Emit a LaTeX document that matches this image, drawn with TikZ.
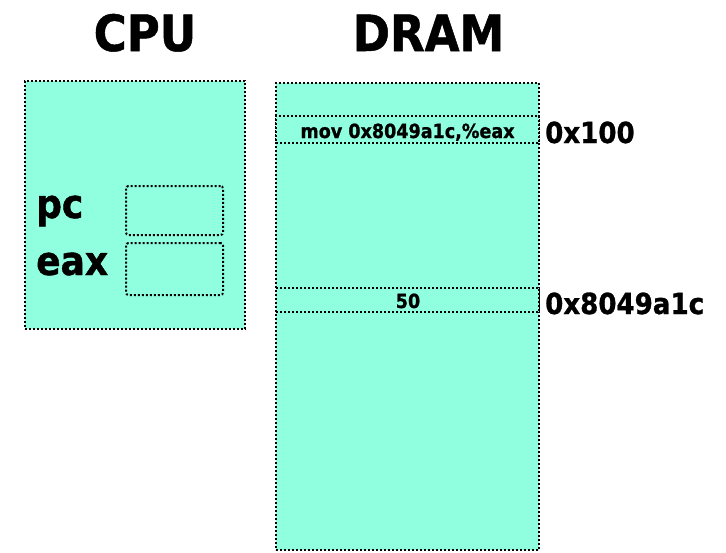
\documentclass[tikz,border=0pt]{standalone}
\usepackage{fontspec}
\setmainfont{DejaVu Sans}[FakeStretch=0.9, BoldFeatures={FakeBold=1}]
\definecolor{aqua}{RGB}{143,255,224}
\tikzset{
  box/.style={draw=black, fill=aqua, line width=2pt, dash pattern=on 2pt off 2pt, inner sep=0pt},
  reg/.style={box, rounded corners=2.5pt},
  lbl/.style={inner sep=0pt, font=\bfseries},
}
\begin{document}
\begin{tikzpicture}[x=1pt,y=-1pt]
\useasboundingbox (0,0) rectangle (726,552);
% boxes
\node[box, minimum width=220pt, minimum height=248pt] (cpu) at (135,205) {};
\node[box, minimum width=263pt, minimum height=467pt] (dram) at (407.5,316.5) {};
\node[box, minimum width=263pt, minimum height=27pt] (row1) at (407.5,129.5) {};
\node[box, minimum width=263pt, minimum height=24pt] (row2) at (407.5,300) {};
\node[reg, minimum width=97pt, minimum height=49pt] (pcbox) at (174.5,210.5) {};
\node[reg, minimum width=97pt, minimum height=52pt] (eaxbox) at (174.5,269) {};
% titles
\node[lbl, anchor=base, font=\bfseries\fontsize{50}{60}\selectfont] (tcpu) at (145,51) {CPU};
\node[lbl, anchor=base, font=\bfseries\fontsize{50}{60}\selectfont] (tdram) at (428.5,51) {DRAM};
% register labels
\node[lbl, anchor=base west, font=\bfseries\fontsize{40}{48}\selectfont] (tpc) at (36,218) {pc};
\node[lbl, anchor=base west, font=\bfseries\fontsize{40}{48}\selectfont] (teax) at (36,275) {eax};
% memory contents
\node[lbl, anchor=base, font=\bfseries\fontsize{19.5}{23}\selectfont] (tmov) at (407.5,138) {mov 0x8049a1c,\%eax};
\node[lbl, anchor=base, font=\bfseries\fontsize{19.5}{23}\selectfont] (t50) at (408,308) {50};
% addresses
\node[lbl, anchor=base west, font=\bfseries\fontsize{29}{35}\selectfont] (a1) at (545,143) {0x100};
\node[lbl, anchor=base west, font=\bfseries\fontsize{29}{35}\selectfont] (a2) at (545,314) {0x8049a1c};
\end{tikzpicture}
\end{document}
